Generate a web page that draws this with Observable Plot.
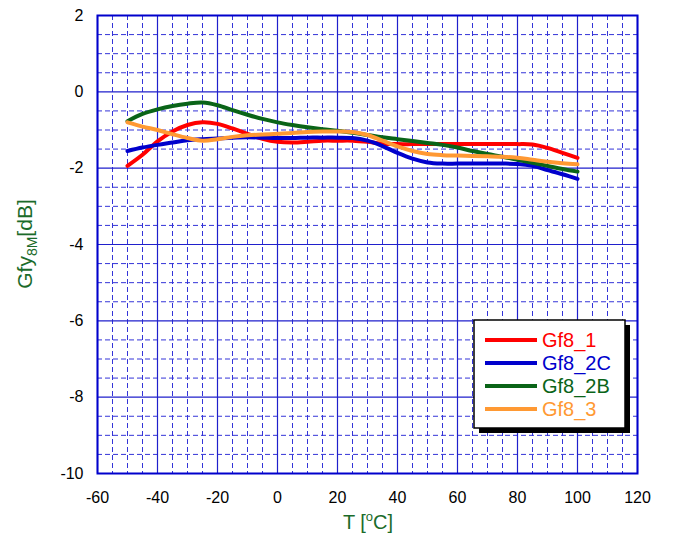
<!DOCTYPE html>
<html>
<head>
<meta charset="utf-8">
<script src="https://cdn.jsdelivr.net/npm/d3@7"></script>
<script src="https://cdn.jsdelivr.net/npm/@observablehq/plot@0.6"></script>
<style>
  body { margin: 0; background: #fff; }
  #chart { width: 674px; height: 540px; }
  svg { font-family: "Liberation Sans", Arial, sans-serif; }
</style>
</head>
<body>
<div id="chart"></div>
<script>
const temps = [-50,-45,-40,-35,-30,-25,-20,-15,-10,-5,0,5,10,15,20,25,30,35,40,45,50,55,60,65,70,75,80,85,90,95,100];
const gf8_1  = [-1.94,-1.65,-1.30,-1.04,-0.87,-0.80,-0.84,-0.96,-1.10,-1.23,-1.31,-1.33,-1.31,-1.28,-1.28,-1.28,-1.31,-1.36,-1.37,-1.37,-1.37,-1.37,-1.37,-1.37,-1.37,-1.37,-1.37,-1.38,-1.47,-1.60,-1.73];
const gf8_2C = [-1.55,-1.46,-1.39,-1.33,-1.27,-1.24,-1.22,-1.20,-1.19,-1.20,-1.21,-1.21,-1.20,-1.20,-1.20,-1.21,-1.28,-1.42,-1.60,-1.75,-1.85,-1.88,-1.88,-1.88,-1.88,-1.88,-1.89,-1.94,-2.05,-2.16,-2.28];
const gf8_2B = [-0.77,-0.58,-0.46,-0.37,-0.31,-0.28,-0.35,-0.48,-0.60,-0.71,-0.80,-0.87,-0.93,-0.98,-1.02,-1.07,-1.13,-1.19,-1.24,-1.29,-1.34,-1.39,-1.46,-1.55,-1.63,-1.70,-1.78,-1.86,-1.94,-2.02,-2.09];
const gf8_3  = [-0.80,-0.91,-1.00,-1.11,-1.21,-1.28,-1.24,-1.18,-1.14,-1.12,-1.10,-1.08,-1.05,-1.04,-1.04,-1.05,-1.13,-1.28,-1.43,-1.55,-1.63,-1.66,-1.67,-1.68,-1.69,-1.70,-1.73,-1.78,-1.83,-1.87,-1.90];

const seriesNames  = ["Gf8_1", "Gf8_2C", "Gf8_2B", "Gf8_3"];
const seriesValues = [gf8_1, gf8_2C, gf8_2B, gf8_3];
const seriesColors = ["#ff0000", "#0000cc", "#0a6418", "#ff9933"];
const xTicks = [-60,-40,-20,0,20,40,60,80,100,120];
const yTicks = [-10,-8,-6,-4,-2,0,2];
const xMinor = d3.range(-55, 120, 5).filter(v => v % 20 !== 0);
const yMinor = d3.range(-9.5, 2, 0.5).filter(v => v % 2 !== 0);

const data = [];
seriesNames.forEach((name, i) => {
  temps.forEach((t, j) => data.push({series: name, T: t, G: seriesValues[i][j]}));
});

const fmt = d => String(d);
const gridColor = "#2020cc";
const chart = Plot.plot({
  width: 674,
  height: 540,
  marginLeft: 97,
  marginRight: 37,
  marginTop: 15,
  marginBottom: 67,
  style: {fontFamily: "'Liberation Sans', Arial, sans-serif", fontSize: "16px", color: "#000", background: "#fff"},
  x: {domain: [-60, 120], ticks: xTicks, tickSize: 0, tickPadding: 18, tickFormat: fmt, label: null},
  y: {domain: [-10, 2], ticks: yTicks, tickSize: 0, tickPadding: 14, tickFormat: fmt, label: null},
  color: {domain: seriesNames, range: seriesColors},
  marks: [
    Plot.ruleX(xMinor, {stroke: "#3434d8", strokeWidth: 1, strokeDasharray: "5,3"}),
    Plot.ruleY(yMinor, {stroke: "#3434d8", strokeWidth: 1, strokeDasharray: "5,3"}),
    Plot.ruleX(xTicks, {stroke: gridColor, strokeWidth: 1.2}),
    Plot.ruleY(yTicks, {stroke: gridColor, strokeWidth: 1.2}),
    Plot.line(data, {x: "T", y: "G", z: "series", stroke: "series", strokeWidth: 4, curve: "catmull-rom"}),
    Plot.frame({stroke: "#0000cc", strokeWidth: 2})
  ]
});
document.getElementById("chart").appendChild(chart);

const svg = d3.select(chart);
const green = "#1b6b2a";
// X axis title
const xt = svg.append("text").attr("x", 368).attr("y", 529).attr("text-anchor", "middle")
  .attr("fill", green).style("font-size", "20px");
xt.append("tspan").text("T [");
xt.append("tspan").attr("dy", -8).style("font-size", "13px").text("o");
xt.append("tspan").attr("dy", 8).text("C]");
// Y axis title
const yt = svg.append("text").attr("transform", "translate(32,244) rotate(-90)").attr("text-anchor", "middle")
  .attr("fill", green).style("font-size", "21px");
yt.append("tspan").text("Gfy");
yt.append("tspan").attr("dy", 5).style("font-size", "14px").text("8M");
yt.append("tspan").attr("dy", -5).text("[dB]");

// Legend
const lg = svg.append("g").attr("text-anchor", "start");
lg.append("rect").attr("x", 479).attr("y", 325).attr("width", 151).attr("height", 108).attr("fill", "#000");
lg.append("rect").attr("x", 474).attr("y", 320).attr("width", 151).attr("height", 108).attr("fill", "#fff").attr("stroke", "#000").attr("stroke-width", 1.5);
seriesNames.forEach((name, i) => {
  const y = 340 + i * 23;
  lg.append("line").attr("x1", 485).attr("x2", 537).attr("y1", y).attr("y2", y).attr("stroke", seriesColors[i]).attr("stroke-width", 4);
  lg.append("text").attr("x", 542).attr("y", y + 7).attr("text-anchor", "start").attr("fill", seriesColors[i]).style("font-size", "20px").text(name);
});
</script>
</body>
</html>
